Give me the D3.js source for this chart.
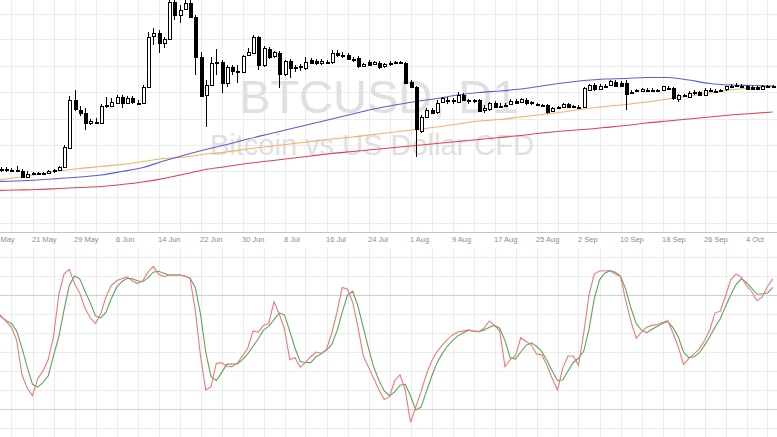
<!DOCTYPE html>
<html><head><meta charset="utf-8">
<script src="https://cdn.jsdelivr.net/npm/d3@7"></script>
<style>html,body{margin:0;padding:0;background:#fff;overflow:hidden}</style>
</head><body><svg id="c" width="777" height="437"></svg>
<script>
// ---------- DATA (BTCUSD daily, from 14 May 2016) ----------
const firstDay = "2016-05-14";
const openP  = [432,430,432,430,431,429,418,423,424,423,424,428,430,436,474,570,550,544,524,527,524,559,558,564,576,564,573,565,564,596,698,704,684,692,766,740,752,764,736,656,580,600,643,646,604,636,628,626,660,664,696,640,672,658,664,622,648,634,636,634,650,648,644,646,646,664,661,660,652,654,638,646,642,644,638,642,644,645,644,606,596,508,536,550,546,566,570,569,566,580,570,569,570,550,552,564,558,559,563,569,566,570,565,562,561,560,548,555,557,562,558,557,556,590,600,594,598,600,607,605,605,587,589,590,590,591,590,590,595,594,572,580,576,585,585,582,590,589,590,591,597,599,598,598,596,596,593,597,598];
const highP  = [438,436,436,434,438,432,428,426,427,426,430,432,438,480,578,590,558,554,532,534,562,576,574,580,580,578,578,570,600,706,714,710,696,780,780,760,770,770,740,666,610,656,672,650,640,640,640,660,674,700,698,678,676,668,668,650,652,640,642,656,654,652,652,650,670,670,666,664,656,658,644,650,648,648,644,648,648,648,646,610,598,540,554,554,570,576,576,574,586,584,572,572,572,560,566,568,564,564,572,572,574,574,568,565,563,562,556,558,564,564,560,560,596,602,604,602,602,610,610,608,610,590,592,594,594,594,593,598,598,596,582,582,588,590,588,594,594,592,592,598,602,604,602,601,598,598,600,600,600];
const lowP   = [426,426,426,426,428,415,416,420,421,420,422,424,428,434,472,548,538,510,520,522,522,554,556,562,554,562,562,562,562,594,680,664,674,690,730,724,750,734,620,576,516,598,620,584,596,620,604,624,658,662,630,636,652,654,594,618,614,626,628,630,642,640,640,642,642,656,654,650,646,634,636,640,640,632,634,638,642,642,604,594,456,504,534,542,542,564,562,562,564,568,562,564,546,544,548,554,556,556,560,562,564,560,560,559,557,543,546,552,555,554,555,552,554,588,588,592,594,598,598,598,550,582,586,588,586,588,588,588,590,570,566,578,574,580,578,580,586,587,588,589,594,596,596,592,592,592,591,595,596];
const closeP = [430,432,430,431,430,417,423,424,423,425,428,430,436,476,570,552,544,524,528,526,558,560,566,576,564,574,566,564,596,696,704,684,692,766,740,750,764,736,656,578,600,644,645,604,636,628,626,658,666,696,640,674,656,666,622,648,634,636,638,646,644,643,648,646,664,660,659,652,653,638,642,641,646,636,642,644,645,644,605,596,512,536,550,544,564,574,569,570,580,570,569,570,549,554,564,556,559,560,569,566,572,563,566,562,560,546,554,556,562,557,558,556,594,600,592,599,597,608,600,600,583,587,590,593,591,590,590,597,594,573,580,581,584,585,580,591,590,589,590,597,598,600,598,593,593,593,598,597,598];

// moving averages, read every 4th day (day number counted from 14 May = 1)
const maDays   = [1,5,9,13,17,21,25,29,33,37,41,45,49,53,57,61,65,69,73,77,81,85,89,93,97,101,105,109,113,117,121,125,129,133,137,141,145,149];
const maBlue   = [407,408,410,413,416,420,427,435,448,460,471,481,492,502,512,522,532,542,552,560,567,573,580,585,588,592,598,604,609,612,613,615,615,610,603,600,599,598];
const maOrange = [410,415,421,428,433,437,441,447,453,456,462,466,472,477,482,487,492,496,501,506,511,516,522,528,531,536,541,546,552,557,561,566,572,578,584,590,594,597];
const maRed    = [389,390,391,393,395,397,401,406,413,422,431,437,443,448,453,458,463,467,471,475,479,483,487,491,495,499,504,508,511,515,519,524,528,532,536,540,543,546];

// stochastic oscillator
const stochK = [72,69,66,63,56,38,31,27,36,40,46,58,80,91,93.5,86,81,73,68,65,70,79,85,87.5,88.5,89.6,87.5,86,87.5,92,95,91,89.6,90.5,90.5,90.5,90,88.8,72,48,30,31.7,44,44.4,42.5,42.3,44,48,52,61,60.5,64,65,76.5,70,62,46,47,42,44.5,47.5,50,49.3,51.4,60,71,84,83,76,63,48,42,36,30,25,26.5,35,38,30,13,21,29,38,45,50,53.5,56.5,59,60.5,61,61.6,61,60.7,62.5,66.3,64,61,42.3,46,48,57.5,55.5,53.8,49,48.5,43,36,30,41.5,47.9,47.9,43,60,80,91,92.6,92.8,92.8,91,89.8,77,66,57.2,60.5,63,64,64.5,65.5,66.5,60,52.8,43.5,46.5,49,51.5,56,61.6,70.5,71.5,79.5,88,91,89.5,85,81.7,77,79,84.5,88.5];
const stochD = [70,68.6,66.5,65,61,52,42,33,31.5,34,37.5,48,58,72,85,90,88.5,82,76,69,68,71,78,84,87,88.8,88.5,87.5,87,89,92,92.5,91.5,90.5,90.5,90.5,90,89,84,70,50,37,35,39,43.5,43.7,43.7,46,49,53,57,61.5,63.5,67,70.5,69.5,61,52,45,44.5,44.4,47.5,49,51,54,61,71,80,82,74,63,52,42,35,29.5,27,29,32.5,33,27,19.5,21,29,37,44,49,53,56,58.5,60,61.5,61,60.7,61.5,63,64,62.5,56,47,46.3,50,53.5,54.8,53,50.2,45.5,40,35,35.3,40,44.5,46.7,50.5,62,78,88,91.5,92.8,92,90,83,73,65,61.5,60.2,62,63.5,65,66,62.8,58,50,47,47.5,49.5,53.5,58,63,67.5,74,80,85.5,88.5,86.5,83.5,80.5,80.5,81,84];

const tickLabels = ["13 May","21 May","29 May","6 Jun","14 Jun","22 Jun","30 Jun","8 Jul","16 Jul","24 Jul","1 Aug","9 Aug","17 Aug","25 Aug","2 Sep","10 Sep","18 Sep","26 Sep","4 Oct"];
const priceGrid = [743,691,638,586,533,481,429,376,324];
const stochGrid = [10,20,30,40,50,60,70,80,90,100];
const stochLevels = [20,80];
const titleText = "BTCUSD, D1";
const subtitleText = "Bitcoin vs US Dollar CFD";

// ---------- DRAW ----------
(function () {
const W = 777, H = 437;
const svg = d3.select("#c");
const parseDay = d3.utcParse("%Y-%m-%d");
const t0 = parseDay(firstDay);
const dates = openP.map((_, i) => d3.utcDay.offset(t0, i));
const dayDate = n => d3.utcDay.offset(t0, n - 1);
const parseTick = d3.utcParse("%d %b %Y");
const tickDates = tickLabels.map(s => parseTick(s + " 2016"));

const x = d3.scaleUtc().domain([parseDay("2016-05-21"), parseDay("2016-10-04")]).range([32.5, 746.5]);
const y = d3.scaleLinear().domain([306, 770]).range([232, 0]);
const ys = d3.scaleLinear().domain([0, 100]).range([447, 257]);

const defs = svg.append("defs");
defs.append("clipPath").attr("id", "clipTop").append("rect").attr("x", 0).attr("y", 0).attr("width", W).attr("height", 232);
defs.append("clipPath").attr("id", "clipBot").append("rect").attr("x", 0).attr("y", 248).attr("width", W).attr("height", H - 248);

svg.append("rect").attr("width", W).attr("height", H).attr("fill", "#fff");

const gridDates = d3.range(0, 40).map(k => d3.utcDay.offset(parseDay("2016-05-13"), 4 * k));
const px = v => Math.round(v) + 0.5;
const grid = svg.append("g").attr("stroke", "#ececec").attr("stroke-width", 1).attr("shape-rendering", "crispEdges");
grid.selectAll("line.vt").data(gridDates).join("line").attr("class", "vt")
  .attr("x1", d => px(x(d))).attr("x2", d => px(x(d))).attr("y1", 0).attr("y2", 232);
grid.selectAll("line.vb").data(gridDates).join("line").attr("class", "vb")
  .attr("x1", d => px(x(d))).attr("x2", d => px(x(d))).attr("y1", 248).attr("y2", H);
grid.selectAll("line.ht").data(priceGrid).join("line").attr("class", "ht")
  .attr("x1", 0).attr("x2", W).attr("y1", d => px(y(d))).attr("y2", d => px(y(d)));
grid.selectAll("line.hb").data(stochGrid).join("line").attr("class", "hb")
  .attr("x1", 0).attr("x2", W).attr("y1", d => px(ys(d))).attr("y2", d => px(ys(d)));
svg.append("g").attr("shape-rendering", "crispEdges").selectAll("line").data(stochLevels).join("line")
  .attr("x1", 0).attr("x2", W).attr("y1", d => px(ys(d))).attr("y2", d => px(ys(d)))
  .attr("stroke", "#cfcfcf").attr("stroke-width", 1);

svg.append("text").attr("x", 239).attr("y", 113).text(titleText)
  .attr("font-family", "Liberation Sans, Arial, sans-serif").attr("font-size", 47).attr("fill", "#e0e0e0");
svg.append("text").attr("x", 210).attr("y", 155).text(subtitleText)
  .attr("font-family", "Liberation Sans, Arial, sans-serif").attr("font-size", 29).attr("fill", "#e0e0e0");

const axis = d3.axisBottom(x).tickValues(tickDates).tickSize(0).tickFormat((d, i) => tickLabels[i]);
const ax = svg.append("g").attr("transform", "translate(0,232)").call(axis);
ax.select(".domain").remove();
ax.selectAll("text").attr("text-anchor", "start").attr("dx", "-1").attr("y", 9.5).attr("dy", 0)
  .attr("font-family", "Liberation Sans, Arial, sans-serif").attr("font-size", 7.5).attr("fill", "#8c8c8c");
svg.append("line").attr("x1", 0).attr("x2", W).attr("y1", 232.5).attr("y2", 232.5)
  .attr("stroke", "#c4c4c4").attr("shape-rendering", "crispEdges");

const topG = svg.append("g").attr("clip-path", "url(#clipTop)");
const maLine = d3.line().x((d, i) => x(dayDate(maDays[i]))).y(d => y(d)).curve(d3.curveMonotoneX);
[[maRed, "#e2404c"], [maOrange, "#f2b264"], [maBlue, "#5b5bd6"]].forEach(([arr, col]) => {
  topG.append("path").datum(arr).attr("d", maLine).attr("fill", "none").attr("stroke", col).attr("stroke-width", 1.1);
});

const cg = topG.append("g").attr("shape-rendering", "crispEdges");
cg.selectAll("line.wick").data(dates).join("line").attr("class", "wick")
  .attr("x1", d => px(x(d))).attr("x2", d => px(x(d)))
  .attr("y1", (d, i) => y(highP[i])).attr("y2", (d, i) => y(lowP[i]))
  .attr("stroke", "#000").attr("stroke-width", 1);
cg.selectAll("rect.body").data(dates).join("rect").attr("class", "body")
  .attr("x", d => Math.round(x(d)) - 1)
  .attr("width", 3)
  .attr("y", (d, i) => Math.round(y(Math.max(openP[i], closeP[i]))))
  .attr("height", (d, i) => Math.max(1, Math.round(Math.abs(y(openP[i]) - y(closeP[i])))))
  .attr("fill", (d, i) => closeP[i] >= openP[i] ? "#fff" : "#000")
  .attr("stroke", "#000").attr("stroke-width", 1);

const botG = svg.append("g").attr("clip-path", "url(#clipBot)");
const sLine = d3.line().x((d, i) => x(dates[i])).y(d => ys(d));
botG.append("path").datum(stochD).attr("d", sLine).attr("fill", "none").attr("stroke", "#5aa55a").attr("stroke-width", 1.1);
botG.append("path").datum(stochK).attr("d", sLine).attr("fill", "none").attr("stroke", "#f07878").attr("stroke-width", 1.1);
})();
</script>
</body></html>
